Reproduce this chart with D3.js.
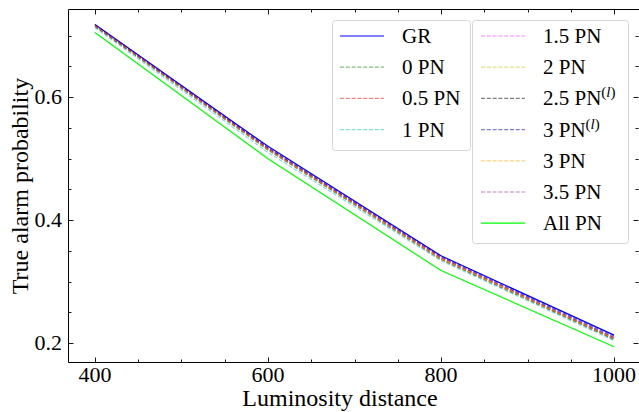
<!DOCTYPE html>
<html>
<head>
<meta charset="utf-8">
<script src="https://cdn.jsdelivr.net/npm/d3@7"></script>
<style>
  body { margin: 0; background: #fff; }
  svg { display: block; }
</style>
</head>
<body>
<svg width="639" height="412"></svg>
<script>
'use strict';

// luminosity distances
var distances = [400, 600, 800, 1000];

// series names (legend order) and their values
var seriesNames = ["GR", "0 PN", "0.5 PN", "1 PN", "1.5 PN", "2 PN", "2.5 PN", "3 PN", "3 PN", "3.5 PN", "All PN"];
var seriesSup   = [false, false, false, false, false, false, true, true, false, false, false];

var gr     = [0.718, 0.520, 0.342, 0.213];
var pn0    = [0.716, 0.516, 0.338, 0.208];
var pn05   = [0.716, 0.516, 0.338, 0.207];
var pn1    = [0.713, 0.510, 0.334, 0.204];
var pn15   = [0.717, 0.517, 0.339, 0.209];
var pn2    = [0.716, 0.515, 0.337, 0.207];
var pn25l  = [0.715, 0.514, 0.336, 0.206];
var pn3l   = [0.718, 0.518, 0.341, 0.211];
var pn3    = [0.716, 0.515, 0.337, 0.207];
var pn35   = [0.717, 0.517, 0.340, 0.209];
var allPn  = [0.705, 0.500, 0.318, 0.194];

var seriesValues = [gr, pn0, pn05, pn1, pn15, pn2, pn25l, pn3l, pn3, pn35, allPn];

var xTicks = [400, 600, 800, 1000];
var yTicks = [0.2, 0.4, 0.6];

// styles
var colors = ["#0000ff", "#008000", "#ff0000", "#00bfbf", "#ff00ff", "#bfbf00",
              "#000000", "#00008b", "#ffa500", "#800080", "#00ff00"];
var dashed = [false, true, true, true, true, true, true, true, true, true, false];

var FONT = "'Liberation Serif'";

var svg = d3.select("svg");

// plot frame
var fLeft = 68.5, fRight = 640, fTop = 9.5, fBottom = 362.5;

var x = d3.scaleLinear().domain([370, 1030]).range([69, 640]);
var y = d3.scaleLinear().domain([0.1685, 0.7425]).range([fBottom, fTop]);

var line = d3.line()
  .x(function(d) { return x(d[0]); })
  .y(function(d) { return y(d[1]); });

// lines
seriesValues.forEach(function(vals, i) {
  var pts = distances.map(function(dd, j) { return [dd, vals[j]]; });
  svg.append("path")
    .attr("d", line(pts))
    .attr("fill", "none")
    .attr("stroke", colors[i])
    .attr("stroke-opacity", dashed[i] ? 0.5 : 1)
    .attr("stroke-width", 1.2)
    .attr("stroke-dasharray", dashed[i] ? "4,1.8" : null);
});

// ticks (inward, all four sides)
var g = svg.append("g").attr("stroke", "#000").attr("stroke-width", 0.9);
var xMinor = d3.range(400, 1030, 50);
var yMinor = d3.range(0.2, 0.74, 0.05);

xMinor.forEach(function(v) {
  var major = xTicks.indexOf(v) >= 0;
  var len = major ? 5 : 3;
  var px = Math.round(x(v)) + 0.5;
  g.append("line").attr("x1", px).attr("x2", px).attr("y1", fBottom).attr("y2", fBottom - len);
  g.append("line").attr("x1", px).attr("x2", px).attr("y1", fTop).attr("y2", fTop + len);
});
yMinor.forEach(function(v) {
  var major = yTicks.some(function(t) { return Math.abs(t - v) < 1e-6; });
  var len = major ? 5 : 3;
  var py = Math.round(y(v)) + 0.5;
  g.append("line").attr("y1", py).attr("y2", py).attr("x1", fLeft).attr("x2", fLeft + len);
  g.append("line").attr("y1", py).attr("y2", py).attr("x1", 638.5).attr("x2", 638.5 - len);
});

// frame
svg.append("path")
  .attr("d", "M" + fLeft + "," + fTop + " L" + fLeft + "," + fBottom + " L" + fRight + "," + fBottom)
  .attr("fill", "none").attr("stroke", "#000").attr("stroke-width", 1);
svg.append("path")
  .attr("d", "M" + fLeft + "," + fTop + " L" + fRight + "," + fTop)
  .attr("fill", "none").attr("stroke", "#000").attr("stroke-width", 1);

// tick labels
svg.selectAll(".xl").data(xTicks).enter().append("text")
  .style("font-family", FONT)
  .attr("x", function(d) { return x(d); })
  .attr("y", 382)
  .attr("text-anchor", "middle")
  .attr("font-size", 22)
  .text(function(d) { return d; });

svg.selectAll(".yl").data(yTicks).enter().append("text")
  .style("font-family", FONT)
  .attr("x", 62)
  .attr("y", function(d) { return y(d) + 7; })
  .attr("text-anchor", "end")
  .attr("font-size", 22)
  .text(function(d) { return d.toFixed(1); });

// axis titles
svg.append("text")
  .style("font-family", FONT)
  .attr("x", 340)
  .attr("y", 406)
  .attr("text-anchor", "middle")
  .attr("font-size", 24)
  .text("Luminosity distance");

svg.append("text")
  .style("font-family", FONT)
  .attr("transform", "translate(28," + ((fTop + fBottom) / 2) + ") rotate(-90)")
  .attr("text-anchor", "middle")
  .attr("font-size", 24)
  .text("True alarm probability");

// legends: two boxes
var boxes = [
  {x: 332.5, y: 20.5, w: 138, h: 130, items: [0, 1, 2, 3], lx: 340, tx: 402},
  {x: 472.5, y: 20.5, w: 156, h: 223, items: [4, 5, 6, 7, 8, 9, 10], lx: 481, tx: 543}
];
var rowStep = 31.2;

boxes.forEach(function(b) {
  svg.append("rect")
    .attr("x", b.x).attr("y", b.y).attr("width", b.w).attr("height", b.h)
    .attr("rx", 3)
    .attr("fill", "#fff").attr("fill-opacity", 0.8)
    .attr("stroke", "#d6d6d6").attr("stroke-width", 1);

  b.items.forEach(function(idx, r) {
    var cy = 36 + r * rowStep;
    svg.append("line")
      .attr("x1", b.lx).attr("x2", b.lx + 44)
      .attr("y1", cy).attr("y2", cy)
      .attr("stroke", colors[idx])
      .attr("stroke-opacity", dashed[idx] ? 0.5 : 1)
      .attr("stroke-width", 1.2)
      .attr("stroke-dasharray", dashed[idx] ? "4,1.8" : null);
    var t = svg.append("text")
      .style("font-family", FONT)
      .attr("x", b.tx).attr("y", cy + 7)
      .attr("font-size", 21)
      .text(seriesNames[idx]);
    if (seriesSup[idx]) {
      t.append("tspan").attr("dy", -8).attr("font-size", 15).text("(");
      t.append("tspan").attr("font-size", 15).attr("font-style", "italic").text("l");
      t.append("tspan").attr("font-size", 15).text(")");
    }
  });
});
</script>
</body>
</html>
